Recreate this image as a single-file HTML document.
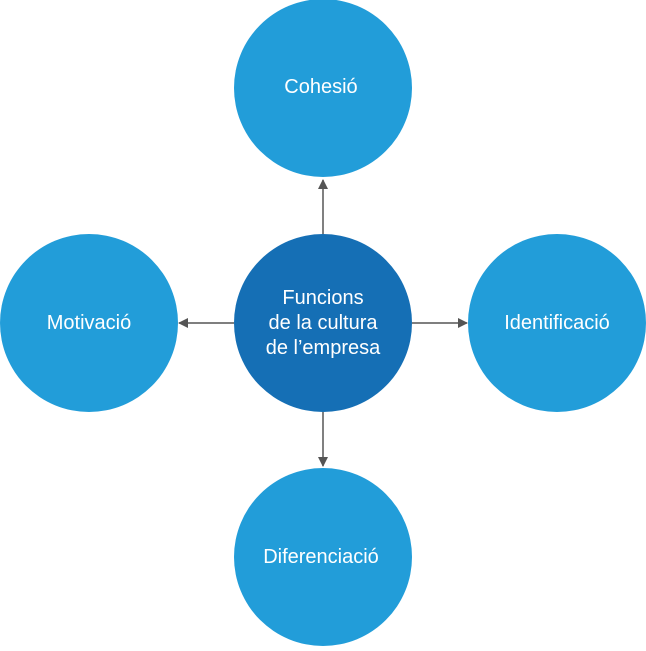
<!DOCTYPE html>
<html><head><meta charset="utf-8"><style>
html,body{margin:0;padding:0;background:#fff;}
svg text{font-family:"Liberation Sans",sans-serif;fill:#fff;font-size:20px;text-anchor:middle;}
</style></head><body>
<svg width="646" height="646" viewBox="0 0 646 646" xmlns="http://www.w3.org/2000/svg">
<defs><marker id="a" markerWidth="10" markerHeight="10" refX="9" refY="5" orient="auto" markerUnits="userSpaceOnUse"><path d="M0,0 L10,5 L0,10 z" fill="#555"/></marker></defs>
<circle cx="323" cy="88" r="89" fill="#229dd9"/>
<circle cx="89" cy="323" r="89" fill="#229dd9"/>
<circle cx="557" cy="323" r="89" fill="#229dd9"/>
<circle cx="323" cy="557" r="89" fill="#229dd9"/>
<circle cx="323" cy="323" r="89" fill="#156fb5"/>
<g stroke="#555" stroke-width="1.5" marker-end="url(#a)">
<line x1="323" y1="234" x2="323" y2="180"/>
<line x1="234" y1="323" x2="179" y2="323"/>
<line x1="412" y1="323" x2="467" y2="323"/>
<line x1="323" y1="412" x2="323" y2="466"/>
</g>
<text x="321" y="93">Cohesió</text>
<text x="89" y="329">Motivació</text>
<text x="557" y="329">Identificació</text>
<text x="321" y="563">Diferenciació</text>
<text x="323" y="304">Funcions</text>
<text x="323" y="329">de la cultura</text>
<text x="323" y="354">de l’empresa</text>
</svg>
</body></html>
